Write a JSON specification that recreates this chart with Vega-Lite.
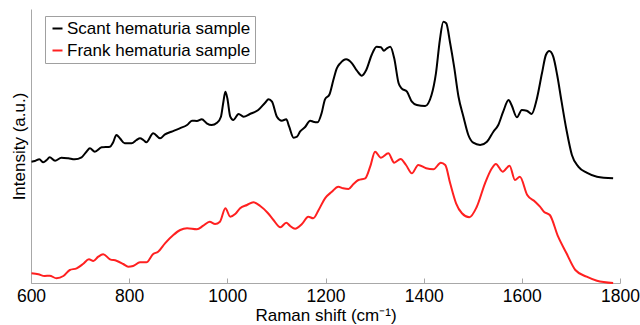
{
  "$schema": "https://vega.github.io/schema/vega-lite/v6.json",
  "autosize": {"type": "none"},
  "width": 589,
  "height": 274,
  "padding": {"left": 31, "top": 9, "right": 20, "bottom": 42},
  "background": "white",
  "config": {
    "view": {"stroke": null},
    "font": "Liberation Sans",
    "axis": {"labelFont": "Liberation Sans", "titleFont": "Liberation Sans", "titleFontWeight": "normal", "labelColor": "black", "titleColor": "black", "domainColor": "#a8a8a8", "tickColor": "#a8a8a8", "grid": false}
  },
  "datasets": {
    "spectra": [
      {"w":601,"i":121.3,"s":"Scant hematuria sample"},{"w":608,"i":122,"s":"Scant hematuria sample"},{"w":617,"i":123.7,"s":"Scant hematuria sample"},{"w":625,"i":120.7,"s":"Scant hematuria sample"},{"w":632,"i":123,"s":"Scant hematuria sample"},{"w":638,"i":125.7,"s":"Scant hematuria sample"},{"w":649,"i":122.3,"s":"Scant hematuria sample"},{"w":662,"i":125.3,"s":"Scant hematuria sample"},{"w":676,"i":124.7,"s":"Scant hematuria sample"},{"w":689,"i":123.7,"s":"Scant hematuria sample"},{"w":703,"i":125.7,"s":"Scant hematuria sample"},{"w":713,"i":131.3,"s":"Scant hematuria sample"},{"w":720,"i":134.7,"s":"Scant hematuria sample"},{"w":730,"i":131.3,"s":"Scant hematuria sample"},{"w":744,"i":135.7,"s":"Scant hematuria sample"},{"w":761,"i":136.3,"s":"Scant hematuria sample"},{"w":767,"i":140.3,"s":"Scant hematuria sample"},{"w":774,"i":148,"s":"Scant hematuria sample"},{"w":781,"i":144.7,"s":"Scant hematuria sample"},{"w":791,"i":139.7,"s":"Scant hematuria sample"},{"w":805,"i":139.7,"s":"Scant hematuria sample"},{"w":815,"i":143,"s":"Scant hematuria sample"},{"w":822,"i":144.7,"s":"Scant hematuria sample"},{"w":829,"i":143,"s":"Scant hematuria sample"},{"w":835,"i":140.7,"s":"Scant hematuria sample"},{"w":849,"i":149.7,"s":"Scant hematuria sample"},{"w":863,"i":144.7,"s":"Scant hematuria sample"},{"w":873,"i":148.7,"s":"Scant hematuria sample"},{"w":886,"i":151.3,"s":"Scant hematuria sample"},{"w":903,"i":154.7,"s":"Scant hematuria sample"},{"w":918,"i":158,"s":"Scant hematuria sample"},{"w":928,"i":162.3,"s":"Scant hematuria sample"},{"w":938,"i":162,"s":"Scant hematuria sample"},{"w":948,"i":163.7,"s":"Scant hematuria sample"},{"w":958,"i":159.7,"s":"Scant hematuria sample"},{"w":968,"i":158,"s":"Scant hematuria sample"},{"w":979,"i":160.3,"s":"Scant hematuria sample"},{"w":987,"i":166.3,"s":"Scant hematuria sample"},{"w":992,"i":181.3,"s":"Scant hematuria sample"},{"w":996,"i":191.3,"s":"Scant hematuria sample"},{"w":1000,"i":184.7,"s":"Scant hematuria sample"},{"w":1006,"i":166.3,"s":"Scant hematuria sample"},{"w":1012,"i":163,"s":"Scant hematuria sample"},{"w":1023,"i":169,"s":"Scant hematuria sample"},{"w":1033,"i":166.3,"s":"Scant hematuria sample"},{"w":1046,"i":169,"s":"Scant hematuria sample"},{"w":1063,"i":173,"s":"Scant hematuria sample"},{"w":1077,"i":180.3,"s":"Scant hematuria sample"},{"w":1084,"i":183.7,"s":"Scant hematuria sample"},{"w":1091,"i":181.3,"s":"Scant hematuria sample"},{"w":1101,"i":166.3,"s":"Scant hematuria sample"},{"w":1111,"i":162.3,"s":"Scant hematuria sample"},{"w":1120,"i":163.7,"s":"Scant hematuria sample"},{"w":1126,"i":156.3,"s":"Scant hematuria sample"},{"w":1135,"i":145.3,"s":"Scant hematuria sample"},{"w":1142,"i":146.3,"s":"Scant hematuria sample"},{"w":1148,"i":151.3,"s":"Scant hematuria sample"},{"w":1158,"i":155.7,"s":"Scant hematuria sample"},{"w":1169,"i":162.3,"s":"Scant hematuria sample"},{"w":1175,"i":161.3,"s":"Scant hematuria sample"},{"w":1184,"i":160.7,"s":"Scant hematuria sample"},{"w":1192,"i":169.7,"s":"Scant hematuria sample"},{"w":1199,"i":183.7,"s":"Scant hematuria sample"},{"w":1208,"i":188.5,"s":"Scant hematuria sample"},{"w":1216,"i":203,"s":"Scant hematuria sample"},{"w":1223,"i":214.7,"s":"Scant hematuria sample"},{"w":1230,"i":219.7,"s":"Scant hematuria sample"},{"w":1242,"i":223.7,"s":"Scant hematuria sample"},{"w":1254,"i":219.7,"s":"Scant hematuria sample"},{"w":1264,"i":212.3,"s":"Scant hematuria sample"},{"w":1274,"i":207.3,"s":"Scant hematuria sample"},{"w":1283,"i":213,"s":"Scant hematuria sample"},{"w":1294,"i":228,"s":"Scant hematuria sample"},{"w":1304,"i":236.3,"s":"Scant hematuria sample"},{"w":1313,"i":235.7,"s":"Scant hematuria sample"},{"w":1319,"i":232.3,"s":"Scant hematuria sample"},{"w":1325,"i":234.7,"s":"Scant hematuria sample"},{"w":1332,"i":236.3,"s":"Scant hematuria sample"},{"w":1340,"i":224.7,"s":"Scant hematuria sample"},{"w":1349,"i":199.7,"s":"Scant hematuria sample"},{"w":1355,"i":194.7,"s":"Scant hematuria sample"},{"w":1366,"i":191.3,"s":"Scant hematuria sample"},{"w":1376,"i":181.3,"s":"Scant hematuria sample"},{"w":1386,"i":178,"s":"Scant hematuria sample"},{"w":1403,"i":177,"s":"Scant hematuria sample"},{"w":1416,"i":188,"s":"Scant hematuria sample"},{"w":1425,"i":209.7,"s":"Scant hematuria sample"},{"w":1433,"i":243,"s":"Scant hematuria sample"},{"w":1440,"i":261.3,"s":"Scant hematuria sample"},{"w":1446,"i":259.7,"s":"Scant hematuria sample"},{"w":1454,"i":239.7,"s":"Scant hematuria sample"},{"w":1462,"i":216.3,"s":"Scant hematuria sample"},{"w":1471,"i":186.3,"s":"Scant hematuria sample"},{"w":1481,"i":166.3,"s":"Scant hematuria sample"},{"w":1491,"i":148,"s":"Scant hematuria sample"},{"w":1501,"i":140.3,"s":"Scant hematuria sample"},{"w":1515,"i":138,"s":"Scant hematuria sample"},{"w":1529,"i":141.3,"s":"Scant hematuria sample"},{"w":1542,"i":151.3,"s":"Scant hematuria sample"},{"w":1552,"i":158,"s":"Scant hematuria sample"},{"w":1562,"i":171.3,"s":"Scant hematuria sample"},{"w":1573,"i":183,"s":"Scant hematuria sample"},{"w":1579,"i":178,"s":"Scant hematuria sample"},{"w":1590,"i":165.7,"s":"Scant hematuria sample"},{"w":1600,"i":173,"s":"Scant hematuria sample"},{"w":1610,"i":172.3,"s":"Scant hematuria sample"},{"w":1620,"i":169,"s":"Scant hematuria sample"},{"w":1630,"i":183,"s":"Scant hematuria sample"},{"w":1641,"i":209.7,"s":"Scant hematuria sample"},{"w":1649,"i":228,"s":"Scant hematuria sample"},{"w":1656,"i":232,"s":"Scant hematuria sample"},{"w":1664,"i":226.3,"s":"Scant hematuria sample"},{"w":1672,"i":208,"s":"Scant hematuria sample"},{"w":1681,"i":181.3,"s":"Scant hematuria sample"},{"w":1691,"i":153,"s":"Scant hematuria sample"},{"w":1702,"i":128,"s":"Scant hematuria sample"},{"w":1715,"i":116.3,"s":"Scant hematuria sample"},{"w":1732,"i":110.3,"s":"Scant hematuria sample"},{"w":1753,"i":106.3,"s":"Scant hematuria sample"},{"w":1786,"i":104.7,"s":"Scant hematuria sample"},
      {"w":601,"i":9.7,"s":"Frank hematuria sample"},{"w":615,"i":8.7,"s":"Frank hematuria sample"},{"w":628,"i":7,"s":"Frank hematuria sample"},{"w":638,"i":7.3,"s":"Frank hematuria sample"},{"w":652,"i":4.7,"s":"Frank hematuria sample"},{"w":666,"i":7,"s":"Frank hematuria sample"},{"w":679,"i":13,"s":"Frank hematuria sample"},{"w":693,"i":14.7,"s":"Frank hematuria sample"},{"w":706,"i":19,"s":"Frank hematuria sample"},{"w":718,"i":23.7,"s":"Frank hematuria sample"},{"w":727,"i":22,"s":"Frank hematuria sample"},{"w":737,"i":26.3,"s":"Frank hematuria sample"},{"w":747,"i":28.7,"s":"Frank hematuria sample"},{"w":761,"i":23.7,"s":"Frank hematuria sample"},{"w":774,"i":22.3,"s":"Frank hematuria sample"},{"w":788,"i":19,"s":"Frank hematuria sample"},{"w":798,"i":16.3,"s":"Frank hematuria sample"},{"w":808,"i":17,"s":"Frank hematuria sample"},{"w":822,"i":20.7,"s":"Frank hematuria sample"},{"w":835,"i":20.7,"s":"Frank hematuria sample"},{"w":849,"i":29,"s":"Frank hematuria sample"},{"w":859,"i":31.3,"s":"Frank hematuria sample"},{"w":873,"i":39.7,"s":"Frank hematuria sample"},{"w":890,"i":48,"s":"Frank hematuria sample"},{"w":904,"i":53,"s":"Frank hematuria sample"},{"w":918,"i":54.7,"s":"Frank hematuria sample"},{"w":938,"i":53.7,"s":"Frank hematuria sample"},{"w":951,"i":57.3,"s":"Frank hematuria sample"},{"w":964,"i":61.3,"s":"Frank hematuria sample"},{"w":975,"i":59,"s":"Frank hematuria sample"},{"w":985,"i":61.3,"s":"Frank hematuria sample"},{"w":996,"i":74.7,"s":"Frank hematuria sample"},{"w":1006,"i":66.3,"s":"Frank hematuria sample"},{"w":1016,"i":69,"s":"Frank hematuria sample"},{"w":1026,"i":74.7,"s":"Frank hematuria sample"},{"w":1040,"i":78,"s":"Frank hematuria sample"},{"w":1053,"i":80.7,"s":"Frank hematuria sample"},{"w":1067,"i":77,"s":"Frank hematuria sample"},{"w":1082,"i":70.3,"s":"Frank hematuria sample"},{"w":1094,"i":63,"s":"Frank hematuria sample"},{"w":1108,"i":55.7,"s":"Frank hematuria sample"},{"w":1120,"i":60.3,"s":"Frank hematuria sample"},{"w":1128,"i":57,"s":"Frank hematuria sample"},{"w":1138,"i":54.3,"s":"Frank hematuria sample"},{"w":1152,"i":59,"s":"Frank hematuria sample"},{"w":1165,"i":66.3,"s":"Frank hematuria sample"},{"w":1175,"i":64.7,"s":"Frank hematuria sample"},{"w":1186,"i":73,"s":"Frank hematuria sample"},{"w":1199,"i":84.7,"s":"Frank hematuria sample"},{"w":1213,"i":91.3,"s":"Frank hematuria sample"},{"w":1226,"i":96.3,"s":"Frank hematuria sample"},{"w":1236,"i":94.7,"s":"Frank hematuria sample"},{"w":1247,"i":94,"s":"Frank hematuria sample"},{"w":1257,"i":99,"s":"Frank hematuria sample"},{"w":1267,"i":103,"s":"Frank hematuria sample"},{"w":1281,"i":104.7,"s":"Frank hematuria sample"},{"w":1291,"i":116.3,"s":"Frank hematuria sample"},{"w":1301,"i":131.3,"s":"Frank hematuria sample"},{"w":1313,"i":125.3,"s":"Frank hematuria sample"},{"w":1328,"i":129.7,"s":"Frank hematuria sample"},{"w":1340,"i":120.3,"s":"Frank hematuria sample"},{"w":1353,"i":124,"s":"Frank hematuria sample"},{"w":1364,"i":118,"s":"Frank hematuria sample"},{"w":1376,"i":109.7,"s":"Frank hematuria sample"},{"w":1389,"i":118,"s":"Frank hematuria sample"},{"w":1405,"i":114.7,"s":"Frank hematuria sample"},{"w":1420,"i":113.7,"s":"Frank hematuria sample"},{"w":1435,"i":120.3,"s":"Frank hematuria sample"},{"w":1444,"i":118,"s":"Frank hematuria sample"},{"w":1454,"i":99.7,"s":"Frank hematuria sample"},{"w":1466,"i":79.7,"s":"Frank hematuria sample"},{"w":1478,"i":69.7,"s":"Frank hematuria sample"},{"w":1493,"i":65.7,"s":"Frank hematuria sample"},{"w":1508,"i":76,"s":"Frank hematuria sample"},{"w":1525,"i":99.7,"s":"Frank hematuria sample"},{"w":1539,"i":114.7,"s":"Frank hematuria sample"},{"w":1547,"i":119,"s":"Frank hematuria sample"},{"w":1561,"i":111.3,"s":"Frank hematuria sample"},{"w":1575,"i":117.3,"s":"Frank hematuria sample"},{"w":1586,"i":103,"s":"Frank hematuria sample"},{"w":1596,"i":106.3,"s":"Frank hematuria sample"},{"w":1611,"i":88,"s":"Frank hematuria sample"},{"w":1627,"i":81.3,"s":"Frank hematuria sample"},{"w":1637,"i":76.3,"s":"Frank hematuria sample"},{"w":1645,"i":71.3,"s":"Frank hematuria sample"},{"w":1657,"i":68,"s":"Frank hematuria sample"},{"w":1674,"i":46.3,"s":"Frank hematuria sample"},{"w":1691,"i":29.7,"s":"Frank hematuria sample"},{"w":1709,"i":13,"s":"Frank hematuria sample"},{"w":1732,"i":6.3,"s":"Frank hematuria sample"},{"w":1753,"i":2.3,"s":"Frank hematuria sample"},{"w":1786,"i":0,"s":"Frank hematuria sample"}
    ]
  },
  "data": {"name": "spectra"},
  "mark": {"type": "line", "interpolate": "monotone", "strokeWidth": 2},
  "encoding": {
    "x": {
      "field": "w", "type": "quantitative",
      "scale": {"domain": [600, 1800], "nice": false, "zero": false},
      "axis": {"title": "Raman shift (cm⁻¹)", "values": [600, 800, 1000, 1200, 1400, 1600, 1800], "format": "d", "tickSize": -5, "labelFontSize": 17.5, "titleFontSize": 17, "labelPadding": 9, "titlePadding": 3, "labelFlush": false}
    },
    "y": {
      "field": "i", "type": "quantitative",
      "scale": {"domain": [0, 274], "nice": false, "zero": false},
      "axis": {"title": "Intensity (a.u.)", "labels": false, "ticks": false, "titleFontSize": 17, "titlePadding": 3}
    },
    "color": {
      "field": "s", "type": "nominal",
      "scale": {"domain": ["Scant hematuria sample", "Frank hematuria sample"], "range": ["#000000", "#ff2020"]},
      "legend": {
        "title": null, "orient": "none", "legendX": 14, "legendY": 7,
        "strokeColor": "#a0a0a0", "fillColor": "white", "padding": 4,
        "symbolType": "stroke", "symbolSize": 100, "symbolStrokeWidth": 2, "symbolOffset": 0,
        "labelFontSize": 17, "labelFont": "Liberation Sans", "labelColor": "black", "labelOffset": 1, "labelLimit": 400, "rowPadding": 4
      }
    }
  }
}
